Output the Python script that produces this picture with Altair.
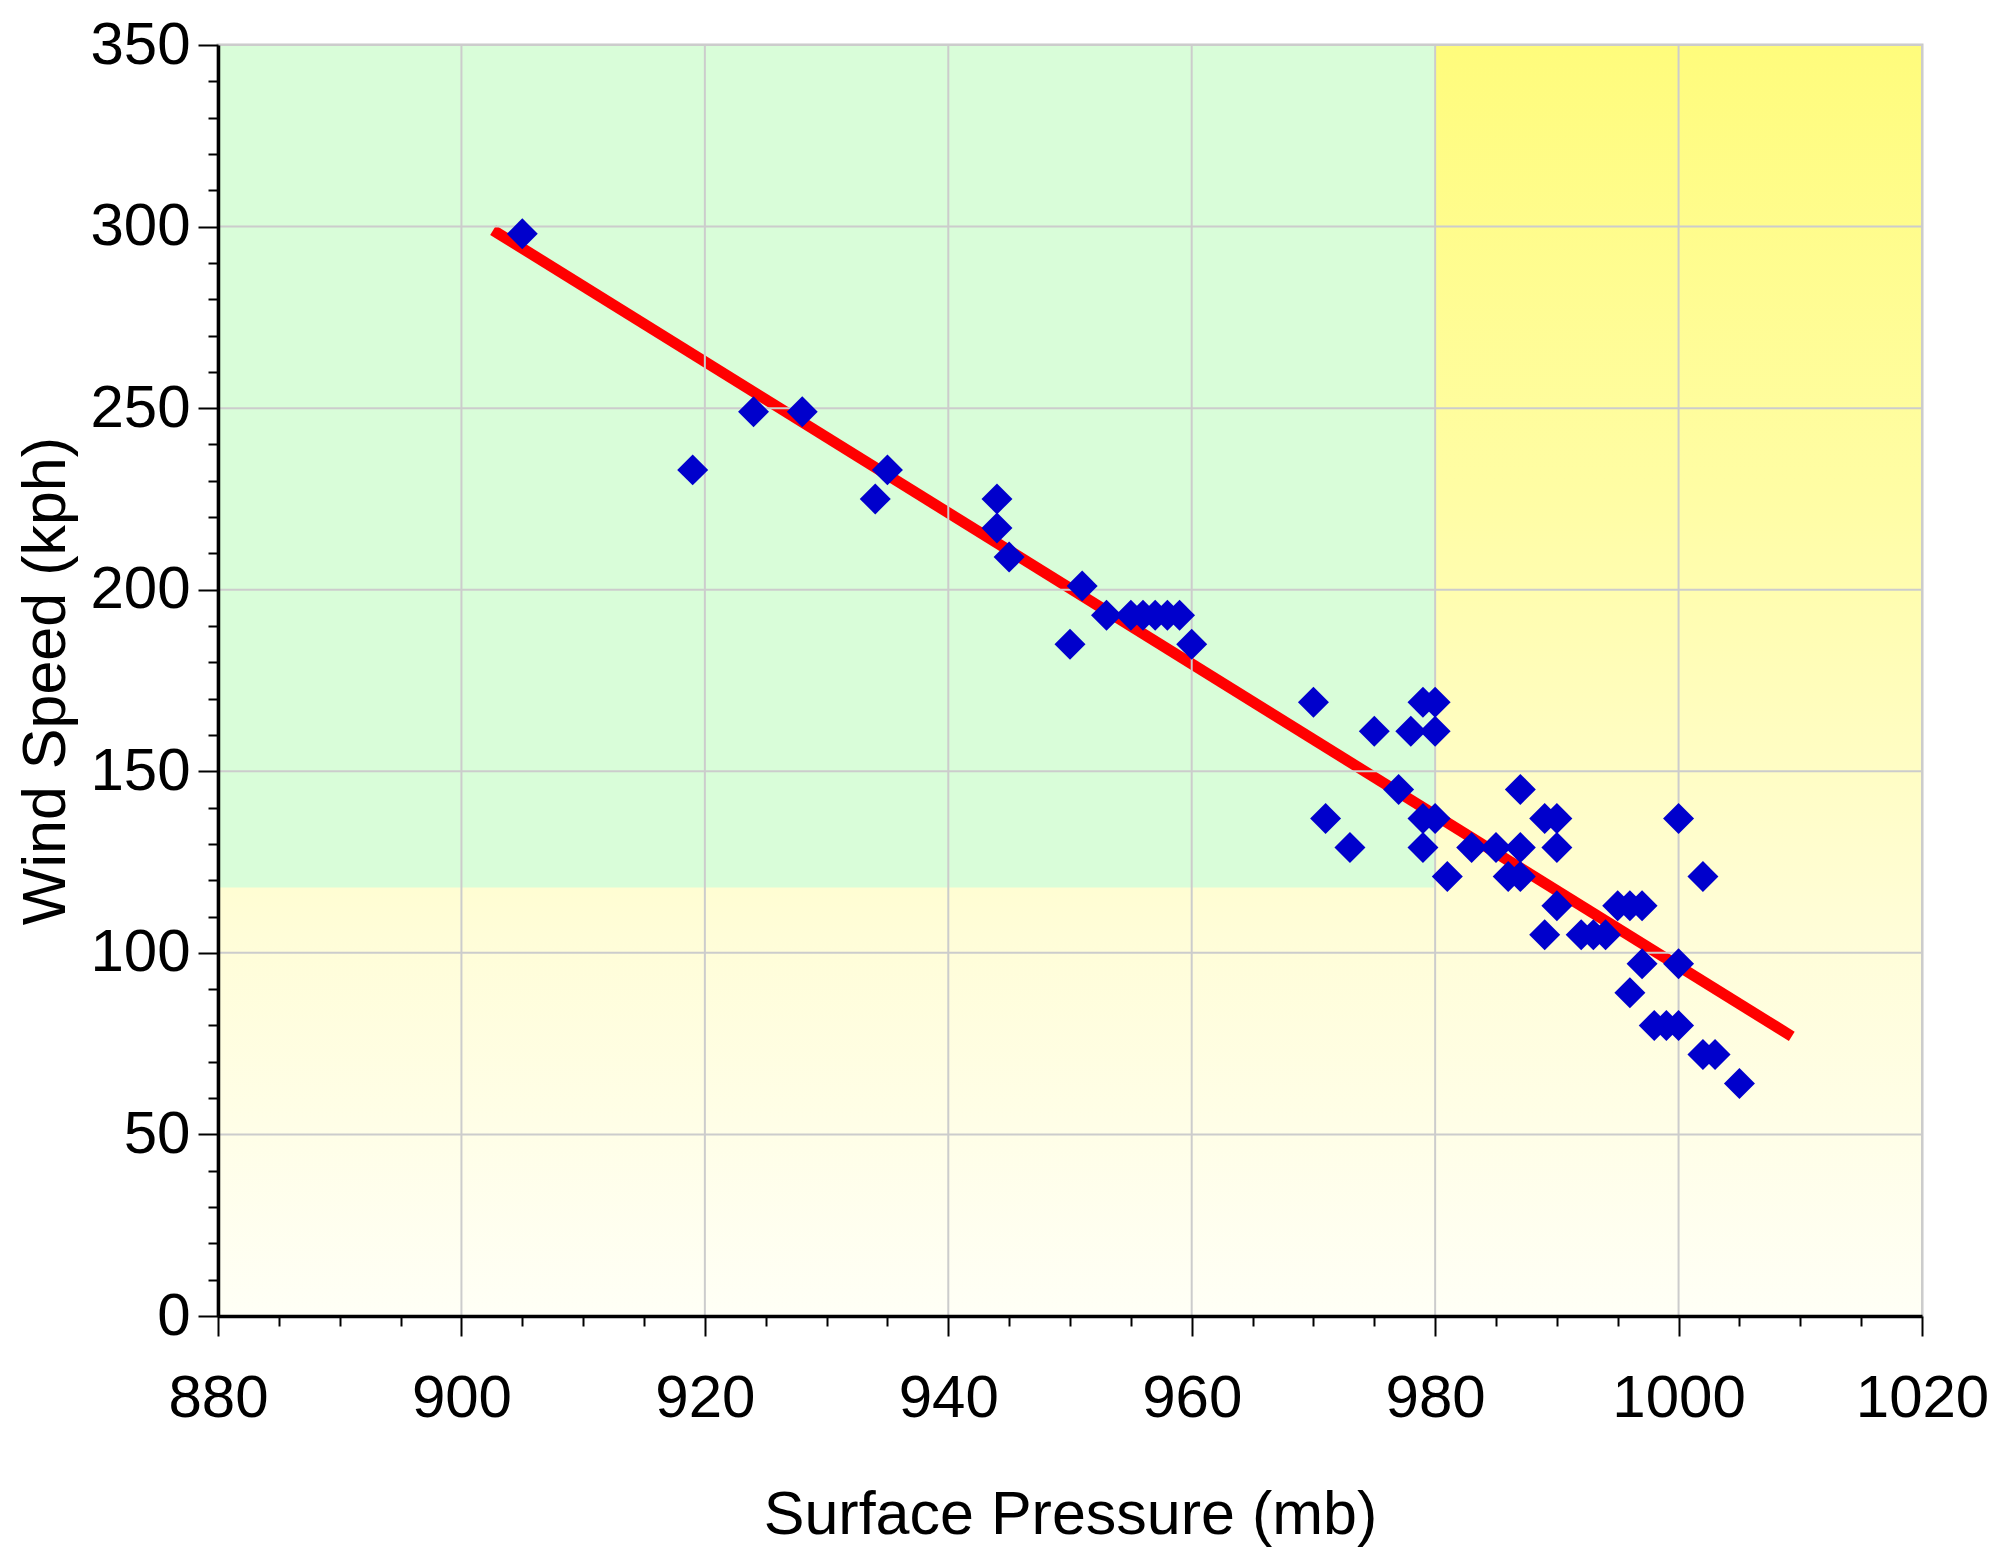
import altair as alt
import pandas as pd

# ---- data ----
pressure = [905, 919, 924, 928, 934, 935, 944, 944, 945, 950,
            951, 953, 955, 956, 957, 958, 959, 960,
            970, 971, 973, 975, 977, 978, 979, 979, 979, 980,
            980, 980, 981, 983, 985, 986, 987, 987, 987,
            989, 989, 990, 990, 990, 992, 993, 994, 995, 996,
            996, 997, 997, 998, 999, 1000, 1000, 1000,
            1002, 1002, 1003, 1005]
wind = [298, 233, 249, 249, 225, 233, 225, 217, 209, 185,
        201, 193, 193, 193, 193, 193, 193, 185,
        169, 137, 129, 161, 145, 161, 169, 137, 129, 169,
        161, 137, 121, 129, 129, 121, 145, 129, 121,
        137, 105, 137, 129, 113, 105, 105, 105, 113, 113,
        89, 113, 97, 80, 80, 80, 137, 97,
        121, 72, 72, 64]

fit_pressure = [902.6, 1009.3]
fit_wind = [299.0, 77.0]

x_domain = [880, 1020]
y_domain = [0, 350]
x_major = [880, 900, 920, 940, 960, 980, 1000, 1020]
y_major = [0, 50, 100, 150, 200, 250, 300, 350]
x_minor = [v for v in range(880, 1021, 5) if v % 20 != 0]
y_minor = [v for v in range(0, 351, 10) if v % 50 != 0]

zone_pressure = [880, 980]
zone_wind = [118, 350]

FONT = "Liberation Sans"

pts_df = pd.DataFrame({"p": pressure, "w": wind})
fit_df = pd.DataFrame({"p": fit_pressure, "w": fit_wind})
bg_df = pd.DataFrame({"p0": [x_domain[0]], "p1": [x_domain[1]],
                      "w0": [y_domain[0]], "w1": [y_domain[1]]})
zone_df = pd.DataFrame({"p0": [zone_pressure[0]], "p1": [zone_pressure[1]],
                        "w0": [zone_wind[0]], "w1": [zone_wind[1]]})

xs = alt.Scale(domain=x_domain, nice=False, zero=False)
ys = alt.Scale(domain=y_domain, nice=False, zero=False)

gradient = alt.LinearGradient(
    gradient="linear",
    stops=[alt.GradientStop(color="#FFFC7C", offset=0),
           alt.GradientStop(color="#FFFDA4", offset=0.35),
           alt.GradientStop(color="#FFFDD8", offset=0.7),
           alt.GradientStop(color="#FFFFF6", offset=1)],
    x1=0, x2=0, y1=0, y2=1)

bg = alt.Chart(bg_df).mark_rect(fill=gradient).encode(
    x=alt.X("p0:Q", scale=xs, axis=None), x2="p1:Q",
    y=alt.Y("w0:Q", scale=ys, axis=None), y2="w1:Q")

zone = alt.Chart(zone_df).mark_rect(fill="#D9FDD9").encode(
    x=alt.X("p0:Q", scale=xs, axis=None), x2="p1:Q",
    y=alt.Y("w0:Q", scale=ys, axis=None), y2="w1:Q")

fit = alt.Chart(fit_df).mark_line(color="#FF0000", strokeWidth=11, strokeCap="butt").encode(
    x=alt.X("p:Q", scale=xs, axis=None),
    y=alt.Y("w:Q", scale=ys, axis=None))

vgrid = alt.Chart(pd.DataFrame({"p": x_major})).mark_rule(color="#CCCCCC", strokeWidth=2).encode(
    x=alt.X("p:Q", scale=xs, axis=None))
hgrid = alt.Chart(pd.DataFrame({"w": y_major})).mark_rule(color="#CCCCCC", strokeWidth=2).encode(
    y=alt.Y("w:Q", scale=ys, axis=None))

x_axis = alt.Axis(
    values=x_major, format="d", title="Surface Pressure (mb)", grid=False, orient="bottom",
    tickSize=20, labelOverlap=False, labelFlush=False, labelPadding=33, titlePadding=57,
    zindex=2)
y_axis = alt.Axis(
    values=y_major, format="d", title="Wind Speed (kph)", grid=False, orient="left",
    tickSize=20, labelOverlap=False, labelFlush=False, labelPadding=8, titlePadding=12,
    zindex=2)

x_minor_axis = alt.Axis(values=x_minor, orient="bottom", labels=False, domain=False, grid=False,
                        title=None, tickSize=10, zindex=1)
y_minor_axis = alt.Axis(values=y_minor, orient="left", labels=False, domain=False, grid=False,
                        title=None, tickSize=10, zindex=1)

pts = alt.Chart(pts_df).mark_point(shape="diamond", size=960, filled=True, color="#0000CC",
                                   opacity=1, strokeWidth=0).encode(
    x=alt.X("p:Q", scale=xs, axis=x_axis),
    y=alt.Y("w:Q", scale=ys, axis=y_axis))

minor = alt.Chart(pts_df).mark_point(opacity=0).encode(
    x=alt.X("p:Q", scale=xs, axis=x_minor_axis),
    y=alt.Y("w:Q", scale=ys, axis=y_minor_axis))

chart = alt.layer(bg, zone, fit, vgrid, hgrid, pts, minor).resolve_axis(
    x="independent", y="independent"
).properties(
    width=1704, height=1271,
    autosize=alt.AutoSizeParams(type="none"),
    padding={"left": 210, "top": 37, "right": 70, "bottom": 242},
    background="white",
).configure_view(
    stroke="#C8C8C8", strokeWidth=3
).configure_axis(
    domainColor="black", domainWidth=3.5, tickColor="black", tickWidth=2,
    labelFont=FONT, labelFontSize=60, labelColor="black",
    titleFont=FONT, titleFontSize=61, titleFontWeight="normal", titleColor="black",
)

chart.save("out.html", embed_options={"renderer": "svg", "actions": False})
